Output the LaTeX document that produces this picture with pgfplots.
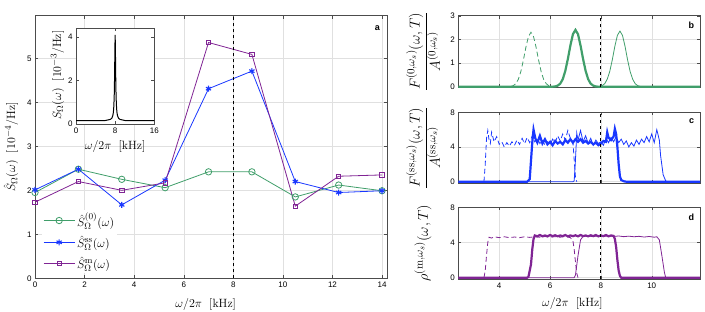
\documentclass[border=0pt]{standalone}
\usepackage[no-math]{fontspec}
\setmainfont{Liberation Sans}
\usepackage{pgfplots}
\pgfplotsset{compat=1.18}
\definecolor{cg}{RGB}{64,158,106}
\definecolor{cb}{RGB}{25,55,255}
\definecolor{cp}{RGB}{128,36,148}
\begin{document}
\begin{tikzpicture}
\path[use as bounding box] (0,0) rectangle (705pt,312pt);
\pgfplotsset{every axis/.append style={scale only axis, anchor=south west,
  axis line style={black!70}, tick style={black!70},
  tick label style={font=\footnotesize},
  /pgf/number format/assume math mode=true,
  major grid style={black!12},
  label style={font=\fontsize{13}{15}\selectfont},
  major tick length=3pt}}
% ---------- main axis ----------
\begin{axis}[at={(35pt,33.7pt)}, width=352pt, height=262.6pt,
  xmin=0, xmax=14.2, ymin=0, ymax=5.97,
  xtick={0,2,...,14}, ytick={0,1,...,5}, grid=major,
  xlabel={$\omega/2\pi\ \ [\mathrm{kHz}]$},
  ylabel={$\hat{S}_\Omega(\omega)\ \ [10^{-4}/\mathrm{Hz}]$},
  xlabel style={at={(axis description cs:0.485,-0.099)}, anchor=center},
  ylabel style={at={(axis description cs:-0.068,0.5)}, anchor=center},
  legend style={at={(0.02,0.26)}, anchor=north west, draw=none, fill=white,
    font=\fontsize{13}{15}\selectfont, row sep=4pt, inner sep=1pt},
  legend cell align=left,
  legend image code/.code={\draw[mark repeat=2,mark phase=2,#1] plot coordinates {(0pt,0pt)(15.5pt,0pt)(31pt,0pt)};},
]
\addplot[cg, line width=0.8pt, mark=o, mark size=3.2pt] coordinates {
(0,1.95)(1.75,2.48)(3.5,2.25)(5.25,2.06)(7,2.42)(8.75,2.42)(10.5,1.85)(12.25,2.12)(14,1.99)};
\addlegendentry{$\hat{S}^{(0)}_{\Omega}(\omega)$}
\addplot[cb, line width=0.8pt, mark=asterisk, mark size=3pt, mark options={cb, line width=1.1pt}] coordinates {
(0,2.01)(1.75,2.48)(3.5,1.67)(5.25,2.23)(7,4.31)(8.75,4.71)(10.5,2.2)(12.25,1.95)(14,1.99)};
\addlegendentry{$\hat{S}^{\mathrm{ss}}_{\Omega}(\omega)$}
\addplot[cp, line width=0.8pt, mark=square, mark size=2.2pt, mark options={cp}] coordinates {
(0,1.73)(1.75,2.2)(3.5,2.0)(5.25,2.17)(7,5.36)(8.75,5.09)(10.5,1.64)(12.25,2.32)(14,2.35)};
\addlegendentry{$\hat{S}^{\mathrm{m}}_{\Omega}(\omega)$}
\addplot[black, dashed, line width=1.1pt, forget plot] coordinates {(8,0)(8,5.97)};
\node[anchor=north east, font=\bfseries\small] at (rel axis cs:0.99,0.975) {a};
\end{axis}
% ---------- inset ----------
\begin{axis}[at={(76pt,188pt)}, width=78.3pt, height=95.7pt,
  xmin=0, xmax=16, ymin=0, ymax=4.4, xtick={0,8,16}, ytick={0,2,4},
  axis background/.style={fill=white},
  xlabel={$\omega/2\pi\ \ [\mathrm{kHz}]$},
  ylabel={$S_\Omega(\omega)\ \ [10^{-3}/\mathrm{Hz}]$},
  xlabel style={at={(axis description cs:0.5,-0.23)}, anchor=center},
  ylabel style={at={(axis description cs:-0.236,0.51)}, anchor=center},
]
\addplot[black, line width=1pt] coordinates {
(0,0.15)(4,0.15)(6,0.16)(7,0.21)(7.3,0.26)(7.5,0.37)(7.6,0.48)(7.7,0.69)(7.8,1.20)(7.85,1.69)(7.9,2.48)(7.95,3.52)(8,4.10)
(8.05,3.52)(8.1,2.48)(8.15,1.69)(8.2,1.20)(8.3,0.69)(8.4,0.48)(8.5,0.37)(8.7,0.26)(9,0.21)(10,0.16)(12,0.15)(16,0.15)};
\end{axis}
% ---------- panel b ----------
\begin{axis}[at={(458.3pt,224.5pt)}, width=241.7pt, height=71.8pt,
  xmin=2.39, xmax=11.9, ymin=-0.03, ymax=3, xtick={4,6,8,10}, xticklabels={},
  ytick={0,1,2,3}, grid=major,
  ylabel={$\displaystyle\frac{F^{(0,\omega_s)}(\omega,T)}{A^{(0,\omega_s)}}$},
  ylabel style={at={(axis description cs:-0.146,0.5)}, anchor=center, font=\fontsize{15.5}{17}\selectfont},
]
\addplot[cg, line width=0.8pt, dashed, dash pattern=on 5pt off 3pt] coordinates {
(4.15,0)(4.25,0.001)(4.35,0.003)(4.45,0.014)(4.55,0.046)(4.65,0.13)(4.75,0.31)(4.85,0.64)(4.95,1.12)(5.05,1.67)(5.15,2.12)(5.25,2.3)(5.35,2.12)(5.45,1.67)(5.55,1.12)(5.65,0.64)(5.75,0.31)(5.85,0.13)(5.95,0.046)(6.05,0.014)(6.15,0.003)(6.25,0)};
\addplot[cg, line width=0.8pt] coordinates {
(7.75,0)(7.85,0.003)(7.95,0.014)(8.05,0.047)(8.15,0.13)(8.25,0.32)(8.35,0.65)(8.45,1.14)(8.55,1.71)(8.65,2.17)(8.75,2.35)(8.85,2.17)(8.95,1.71)(9.05,1.14)(9.15,0.65)(9.25,0.32)(9.35,0.13)(9.45,0.047)(9.55,0.014)(9.65,0.003)(9.75,0)};
\addplot[cg, line width=2.2pt] coordinates {
(2.3,0)(6.0,0)(6.1,0.003)(6.2,0.014)(6.3,0.048)(6.4,0.13)(6.5,0.32)(6.6,0.67)(6.7,1.17)(6.8,1.74)(6.9,2.22)(7.0,2.4)(7.1,2.22)(7.2,1.74)(7.3,1.17)(7.4,0.67)(7.5,0.32)(7.6,0.13)(7.7,0.048)(7.8,0.014)(7.9,0.003)(8.0,0)(12,0)};
\addplot[black, dashed, line width=1.1pt] coordinates {(8,-0.03)(8,3)};
\node[anchor=north east, font=\bfseries\small] at (rel axis cs:0.99,0.96) {b};
\node[anchor=south west, font=\scriptsize, inner sep=1pt, black!70] at (rel axis cs:0,1) {×10\textsuperscript{-4}};
\end{axis}
% ---------- panel c ----------
\begin{axis}[at={(458.3pt,129pt)}, width=241.7pt, height=70.7pt,
  xmin=2.39, xmax=11.9, ymin=-0.15, ymax=8, xtick={4,6,8,10}, xticklabels={},
  ytick={0,4,8}, grid=major,
  ylabel={$\displaystyle\frac{F^{(\mathrm{ss},\omega_s)}(\omega,T)}{A^{(\mathrm{ss},\omega_s)}}$},
  ylabel style={at={(axis description cs:-0.146,0.5)}, anchor=center, font=\fontsize{15.5}{17}\selectfont},
]
\addplot[cb, line width=0.8pt, dashed, dash pattern=on 5pt off 3pt] coordinates {
(3.4,0)(3.45,2.0)(3.5,5.0)(3.55,5.9)(3.6,4.8)(3.65,4.4)(3.7,5.7)(3.8,4.6)(3.9,5.2)(4.0,4.3)(4.1,4.6)(4.2,4.0)(4.3,4.5)(4.4,4.1)(4.5,4.6)(4.6,4.2)(4.7,4.8)(4.8,4.3)(4.9,5.0)(5.0,4.4)(5.1,5.1)(5.2,4.5)(5.3,5.3)(5.4,4.6)(5.5,5.0)(5.6,4.4)(5.7,4.8)(5.8,4.2)(5.9,4.6)(6.0,4.3)(6.1,4.9)(6.2,4.5)(6.3,5.3)(6.4,4.7)(6.5,5.5)(6.6,4.8)(6.7,5.9)(6.8,5.0)(6.9,4.6)(6.95,2.5)(7.0,0.5)(7.05,0)};
\addplot[cb, line width=0.8pt] coordinates {
(2.3,0)(6.9,0)(6.95,0.1)(7.0,2.5)(7.05,5.6)(7.1,4.8)(7.2,5.9)(7.3,4.6)(7.4,5.3)(7.5,4.4)(7.6,5.0)(7.7,4.2)(7.8,4.8)(7.9,4.4)(8.0,4.6)(8.1,4.2)(8.2,5.0)(8.3,4.5)(8.4,5.1)(8.5,4.6)(8.6,5.2)(8.7,4.5)(8.8,4.9)(8.9,4.3)(9.0,4.7)(9.1,4.0)(9.2,4.5)(9.3,4.1)(9.4,4.8)(9.5,4.3)(9.6,4.9)(9.7,4.5)(9.8,5.2)(9.9,4.6)(10.0,5.5)(10.1,4.5)(10.2,6.0)(10.3,4.8)(10.35,3.0)(10.45,0.8)(10.55,0.1)(10.6,0)(12,0)};
\addplot[cb, line width=2.2pt] coordinates {
(2.3,0)(5.1,0)(5.2,0.3)(5.3,4.5)(5.35,6.0)(5.42,5.0)(5.5,4.5)(5.6,5.3)(5.7,4.4)(5.8,4.9)(5.9,4.3)(6.0,4.6)(6.1,4.2)(6.2,4.7)(6.3,4.4)(6.4,4.6)(6.5,4.3)(6.6,4.8)(6.7,4.5)(6.8,4.9)(6.9,4.5)(7.0,4.9)(7.1,4.6)(7.2,4.9)(7.3,4.5)(7.4,4.7)(7.5,4.4)(7.6,4.6)(7.7,4.3)(7.8,4.5)(7.9,4.2)(8.0,4.4)(8.1,4.7)(8.2,4.6)(8.25,5.7)(8.3,5.1)(8.4,4.8)(8.5,5.2)(8.55,6.1)(8.6,5.5)(8.65,4.0)(8.7,2.0)(8.75,0.6)(8.8,0.2)(8.9,0.05)(9.0,0)(12,0)};
\addplot[black, dashed, line width=1.1pt] coordinates {(8,-0.15)(8,8)};
\node[anchor=north east, font=\bfseries\small] at (rel axis cs:0.99,0.96) {c};
\node[anchor=south west, font=\scriptsize, inner sep=1pt, black!70] at (rel axis cs:0,1) {×10\textsuperscript{-5}};
\end{axis}
% ---------- panel d ----------
\begin{axis}[at={(458.3pt,33pt)}, width=241.7pt, height=71.7pt,
  xmin=2.39, xmax=11.9, ymin=-0.15, ymax=8, xtick={4,6,8,10},
  ytick={0,4,8}, grid=major,
  xlabel={$\omega/2\pi\ \ [\mathrm{kHz}]$},
  ylabel={$\rho^{(\mathrm{m},\omega_s)}(\omega,T)$},
  xlabel style={at={(axis description cs:0.472,-0.34)}, anchor=center},
  ylabel style={at={(axis description cs:-0.146,0.5)}, anchor=center, font=\fontsize{15.5}{17}\selectfont},
]
\addplot[cp, line width=0.8pt, dashed, dash pattern=on 5pt off 3pt] coordinates {
(3.4,0)(3.45,0.8)(3.5,2.5)(3.55,4.0)(3.6,4.6)(3.7,4.5)(3.8,4.65)(4.0,4.55)(4.2,4.65)(4.4,4.55)(4.6,4.62)(4.8,4.55)(5.0,4.65)(5.2,4.58)(5.4,4.65)(5.6,4.6)(5.8,4.68)(6.0,4.6)(6.2,4.66)(6.4,4.6)(6.6,4.7)(6.8,4.55)(6.9,4.2)(6.95,3.2)(7.0,1.8)(7.05,0.5)(7.1,0)};
\addplot[cp, line width=0.8pt] coordinates {
(2.3,0)(6.95,0)(7.0,0.3)(7.1,2.5)(7.2,4.3)(7.3,4.7)(7.5,4.72)(7.7,4.68)(7.9,4.75)(8.1,4.7)(8.3,4.76)(8.5,4.68)(8.7,4.74)(8.9,4.66)(9.1,4.72)(9.3,4.65)(9.5,4.7)(9.7,4.62)(9.9,4.68)(10.1,4.6)(10.2,4.65)(10.3,4.3)(10.4,2.5)(10.5,0.6)(10.55,0)(12,0)};
\addplot[cp, line width=2.2pt] coordinates {
(2.3,0)(5.1,0)(5.15,0.1)(5.25,1.5)(5.3,3.2)(5.35,4.4)(5.4,4.8)(5.5,4.7)(5.6,4.85)(5.7,4.7)(5.8,4.8)(5.9,4.7)(6.0,4.85)(6.1,4.72)(6.2,4.82)(6.3,4.7)(6.4,4.8)(6.5,4.72)(6.6,4.85)(6.7,4.7)(6.8,4.8)(6.9,4.72)(7.0,4.82)(7.1,4.7)(7.2,4.85)(7.3,4.72)(7.4,4.8)(7.5,4.7)(7.6,4.82)(7.7,4.72)(7.8,4.85)(7.9,4.7)(8.0,4.8)(8.1,4.72)(8.2,4.85)(8.3,4.7)(8.4,4.8)(8.5,4.75)(8.55,4.4)(8.6,3.5)(8.65,2.0)(8.7,0.8)(8.75,0.2)(8.8,0)(12,0)};
\addplot[black, dashed, line width=1.1pt] coordinates {(8,-0.15)(8,8)};
\node[anchor=north east, font=\bfseries\small] at (rel axis cs:0.99,0.96) {d};
\node[anchor=south west, font=\scriptsize, inner sep=1pt, black!70] at (rel axis cs:0,1) {×10\textsuperscript{-5}};
\end{axis}
\end{tikzpicture}
\end{document}
